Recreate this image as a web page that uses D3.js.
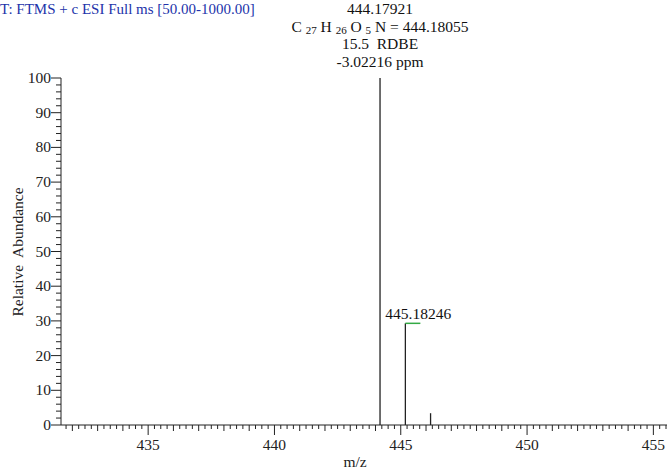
<!DOCTYPE html>
<html lang="en">
<head>
<meta charset="UTF-8">
<title>Mass spectrum</title>
<script src="https://d3js.org/d3.v7.min.js"></script>
<style>
  body { margin: 0; background: #fff; }
  svg text { font-family: "Liberation Serif", "DejaVu Serif", serif; white-space: pre; }
  .tick-label { font-size: 15.5px; fill: #222; }
  .ann { font-size: 15.5px; fill: #111; text-anchor: middle; }
</style>
</head>
<body>
<svg id="chart" width="667" height="471"></svg>
<script>
// peak data (m/z, relative abundance)
const peakMz = [444.17921, 445.18246, 446.18];
const peakAbund = [100, 29.3, 3.4];
const peakLabels = ["", "445.18246", ""];
const xTicks = [435, 440, 445, 450, 455];
const yTicks = [0, 10, 20, 30, 40, 50, 60, 70, 80, 90, 100];
const topLines = ["444.17921", "C 27 H 26 O 5 N = 444.18055", "15.5  RDBE", "-3.02216 ppm"];

const svg = d3.select("#chart");
const x = d3.scaleLinear().domain([431.55, 455.5]).range([61, 666]);
const y = d3.scaleLinear().domain([0, 100]).range([425, 78]);

// header
svg.append("text")
  .attr("x", 0).attr("y", 14)
  .attr("font-size", 15).attr("fill", "#2233aa")
  .text("T: FTMS + c ESI Full ms [50.00-1000.00]");

// y axis
svg.append("line").attr("x1", 61).attr("x2", 61).attr("y1", y(100)).attr("y2", y(0))
  .attr("stroke", "#222");
svg.selectAll(".ymin").data(d3.range(0, 101, 2)).enter().append("line")
  .attr("x1", d => d % 10 === 0 ? 51 : 56).attr("x2", 61)
  .attr("y1", d => y(d)).attr("y2", d => y(d))
  .attr("stroke", "#222");
svg.selectAll(".ylab").data(yTicks).enter().append("text")
  .attr("class", "tick-label")
  .attr("x", 51).attr("y", d => y(d) + 5)
  .attr("text-anchor", "end")
  .text(d => d);
svg.append("text")
  .attr("transform", "translate(23," + 252 + ") rotate(-90)")
  .attr("text-anchor", "middle").attr("font-size", 15.5).attr("fill", "#222")
  .text("Relative  Abundance");

// x axis
svg.append("line").attr("x1", 61).attr("x2", 667).attr("y1", 425).attr("y2", 425)
  .attr("stroke", "#222");
const xm = d3.range(Math.ceil(x.domain()[0] * 4), Math.floor(x.domain()[1] * 4) + 1).map(v => v / 4);
svg.selectAll(".xmin").data(xm).enter().append("line")
  .attr("x1", d => x(d)).attr("x2", d => x(d))
  .attr("y1", 425)
  .attr("y2", d => d % 5 === 0 ? 435 : (d % 1 === 0 ? 431 : 429))
  .attr("stroke", "#222");
svg.selectAll(".xlab").data(xTicks).enter().append("text")
  .attr("class", "tick-label")
  .attr("x", d => x(d)).attr("y", 450)
  .attr("text-anchor", "middle")
  .text(d => d);
svg.append("text")
  .attr("x", 355).attr("y", 467)
  .attr("text-anchor", "middle").attr("font-size", 15.5).attr("fill", "#222")
  .text("m/z");

// peaks
svg.selectAll(".peak").data(peakMz).enter().append("line")
  .attr("x1", d => x(d)).attr("x2", d => x(d))
  .attr("y1", y(0)).attr("y2", (d, i) => y(peakAbund[i]))
  .attr("stroke", "#222").attr("stroke-width", 1.3);

// green marker + label on second peak
svg.append("line")
  .attr("x1", x(peakMz[1])).attr("x2", x(peakMz[1]) + 15)
  .attr("y1", y(peakAbund[1])).attr("y2", y(peakAbund[1]))
  .attr("stroke", "#33aa44").attr("stroke-width", 1.5);
svg.append("text")
  .attr("x", x(peakMz[1]) - 20).attr("y", y(peakAbund[1]) - 4)
  .attr("font-size", 15.5).attr("fill", "#111")
  .text(peakLabels[1]);

// annotation for base peak
svg.selectAll(".ann").data(topLines).enter().append("text")
  .attr("class", "ann")
  .attr("x", x(peakMz[0]))
  .attr("y", (d, i) => 14 + i * 17.7)
  .each(function(d, i) {
    const t = d3.select(this);
    if (i === 1) {
      const parts = [["C ", 0], ["27", 1], [" H ", 0], ["26", 1], [" O ", 0], ["5", 1], [" N = 444.18055", 0]];
      parts.forEach(p => t.append("tspan")
        .attr("font-size", p[1] ? 11 : 15.5)
        .attr("baseline-shift", p[1] ? "-2" : null)
        .text(p[0]));
    } else {
      t.text(d);
    }
  });
</script>
</body>
</html>
